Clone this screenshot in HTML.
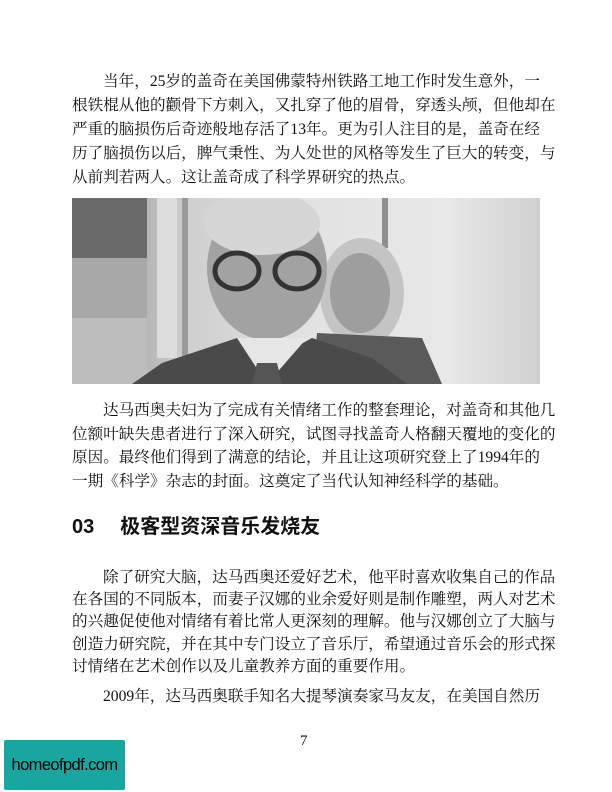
<!DOCTYPE html>
<html><head><meta charset="utf-8">
<style>
body{margin:0;background:#fff}
#page{position:relative;width:612px;height:792px;overflow:hidden;background:#fff;font-family:"Liberation Serif","Noto Serif CJK SC",serif;color:#111}
.l{position:absolute;left:72px;width:468px;font-size:15.6px;line-height:20px;white-space:nowrap;text-align:justify;text-align-last:justify}
.i{left:103px;width:437px}
.last{text-align-last:left}
</style></head><body>
<div id="page">
<div>
<div class="l i" style="top:72px">当年，25岁的盖奇在美国佛蒙特州铁路工地工作时发生意外，一</div>
<div class="l" style="top:96px">根铁棍从他的颧骨下方刺入，又扎穿了他的眉骨，穿透头颅，但他却在</div>
<div class="l" style="top:120px">严重的脑损伤后奇迹般地存活了13年。更为引人注目的是，盖奇在经</div>
<div class="l" style="top:144px">历了脑损伤以后，脾气秉性、为人处世的风格等发生了巨大的转变，与</div>
<div class="l last" style="top:168px">从前判若两人。这让盖奇成了科学界研究的热点。</div>
</div>
<svg style="position:absolute;left:72px;top:198px" width="468" height="186">
<defs>
<linearGradient id="bg" x1="0" x2="1"><stop offset="0" stop-color="#8a8a8a"/><stop offset="0.25" stop-color="#cfcfcf"/><stop offset="0.5" stop-color="#e2e2e2"/><stop offset="0.8" stop-color="#e8e8e8"/><stop offset="1" stop-color="#d0d0d0"/></linearGradient>
</defs>
<rect width="468" height="186" fill="url(#bg)"/>
<rect x="0" y="0" width="75" height="60" fill="#6a6a6a"/>
<rect x="0" y="60" width="75" height="60" fill="#a8a8a8"/>
<rect x="0" y="120" width="75" height="66" fill="#bdbdbd"/>
<rect x="85" y="0" width="20" height="160" fill="#dcdcdc"/>
<rect x="110" y="0" width="6" height="186" fill="#9a9a9a"/>
<rect x="310" y="0" width="6" height="50" fill="#8e8e8e"/>
<ellipse cx="290" cy="95" rx="42" ry="55" fill="#c4c4c4"/>
<ellipse cx="288" cy="95" rx="30" ry="40" fill="#9e9e9e"/>
<path d="M245 135 L350 140 L370 186 L240 186Z" fill="#5a5a5a"/>
<ellipse cx="195" cy="70" rx="60" ry="72" fill="#a2a2a2"/>
<ellipse cx="190" cy="25" rx="58" ry="32" fill="#d6d6d6"/>
<ellipse cx="165" cy="73" rx="22" ry="18" fill="none" stroke="#333" stroke-width="5"/>
<ellipse cx="225" cy="73" rx="22" ry="18" fill="none" stroke="#333" stroke-width="5"/>
<path d="M60 186 L90 165 L165 140 L195 165 L240 140 L300 160 L335 186Z" fill="#4a4a4a"/>
<path d="M165 140 L195 186 L235 140Z" fill="#e6e6e6"/>
<path d="M185 165 L205 165 L210 186 L180 186Z" fill="#555"/>
</svg>
<div>
<div class="l i" style="top:401px">达马西奥夫妇为了完成有关情绪工作的整套理论，对盖奇和其他几</div>
<div class="l" style="top:425px">位额叶缺失患者进行了深入研究，试图寻找盖奇人格翻天覆地的变化的</div>
<div class="l" style="top:448px">原因。最终他们得到了满意的结论，并且让这项研究登上了1994年的</div>
<div class="l last" style="top:472px">一期《科学》杂志的封面。这奠定了当代认知神经科学的基础。</div>
</div>
<div style="position:absolute;left:72px;top:513px;font-family:'Liberation Sans','Noto Sans CJK SC',sans-serif;font-weight:bold;font-size:20px;line-height:28px;white-space:nowrap">03<span style="display:inline-block;width:26px"></span>极客型资深音乐发烧友</div>
<div>
<div class="l i" style="top:568px">除了研究大脑，达马西奥还爱好艺术，他平时喜欢收集自己的作品</div>
<div class="l" style="top:590px">在各国的不同版本，而妻子汉娜的业余爱好则是制作雕塑，两人对艺术</div>
<div class="l" style="top:612px">的兴趣促使他对情绪有着比常人更深刻的理解。他与汉娜创立了大脑与</div>
<div class="l" style="top:635px">创造力研究院，并在其中专门设立了音乐厅，希望通过音乐会的形式探</div>
<div class="l last" style="top:657px">讨情绪在艺术创作以及儿童教养方面的重要作用。</div>
<div class="l i" style="top:687px">2009年，达马西奥联手知名大提琴演奏家马友友，在美国自然历</div>
</div>
<div style="position:absolute;left:300px;top:733px;font-size:15px">7</div>
<div style="position:absolute;left:4px;top:740px;width:121px;height:50px;background:#1aa6a0;border-radius:2px;color:#000;font-family:'Liberation Sans',sans-serif;font-size:16.5px;line-height:50px;text-align:center;letter-spacing:-0.6px;white-space:nowrap;overflow:hidden">homeofpdf.com</div>
</div>
</body></html>
